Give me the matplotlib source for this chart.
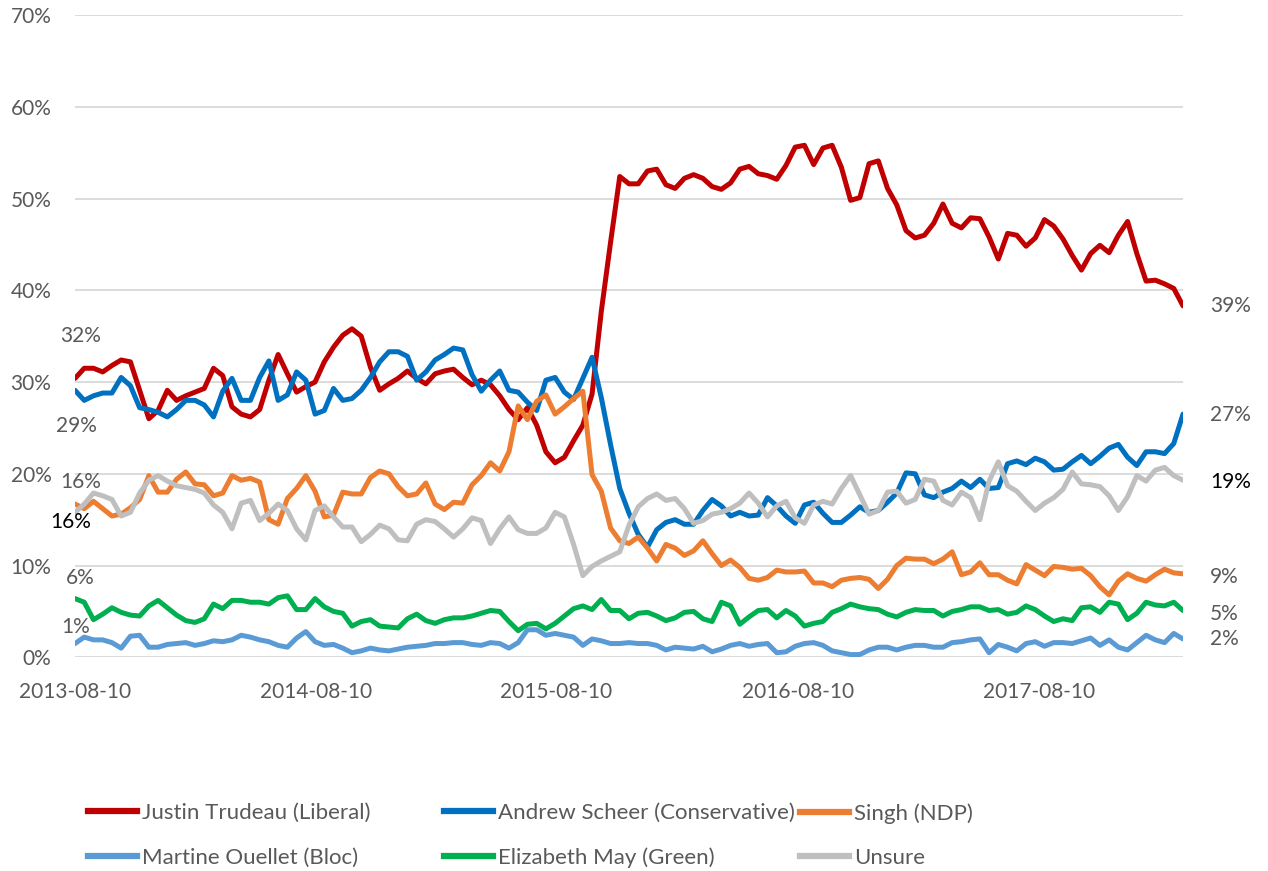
# Canadian leader preference tracking, 2013-2018 (recreated chart)
import matplotlib
matplotlib.use('Agg')
import matplotlib.pyplot as plt
import pandas as pd
from matplotlib.lines import Line2D

plt.rcParams['font.family'] = ['Lato', 'DejaVu Sans']

# data: one reading every two weeks, in percent
dates = pd.date_range('2013-08-10', periods=121, freq='14D')

trudeau = [30.4, 31.5, 31.5, 31.1, 31.8, 32.4, 32.2, 29.1, 26.0, 26.9, 29.1, 28.0, 28.5, 28.9, 29.3, 31.5, 30.7, 27.3, 26.5,
           26.2, 27.0, 30.2, 33.0, 30.9, 28.9, 29.5, 30.0, 32.2, 33.8, 35.1, 35.8, 35.0, 31.6, 29.1, 29.8, 30.4, 31.2, 30.4, 29.8, 30.9,
           31.2,
           31.4, 30.5, 29.7, 30.2, 29.7, 28.5, 27.0, 25.9, 27.2, 25.3, 22.4, 21.2, 21.8, 23.6, 25.3, 28.7, 37.7, 45.2, 52.4, 51.6, 51.6,
           53.0, 53.2, 51.5, 51.1, 52.2, 52.6, 52.2, 51.3, 51.0, 51.7, 53.2, 53.5, 52.7, 52.5, 52.1, 53.6, 55.6, 55.8, 53.7, 55.5, 55.8,
           53.4, 49.8, 50.1, 53.8, 54.1, 51.1, 49.3, 46.5, 45.7, 46.0, 47.3, 49.4, 47.3, 46.8, 47.9, 47.8, 45.8, 43.4, 46.2, 46.0,
           44.8, 45.7, 47.7, 47.0, 45.6, 43.8, 42.2, 44.0, 44.9, 44.1, 46.0, 47.5, 44.0, 41.0, 41.1, 40.7, 40.2, 38.3]

scheer = [29.1, 28.0, 28.5, 28.8, 28.8, 30.5, 29.6, 27.2, 27.0, 26.7, 26.2, 27.0, 28.0, 28.0, 27.5, 26.2, 29.0, 30.4, 28.0,
          28.0, 30.5, 32.3, 28.0, 28.6, 31.1, 30.2, 26.5, 26.9, 29.3, 28.0, 28.2, 29.1, 30.5, 32.2, 33.3, 33.3, 32.8, 30.2, 31.1, 32.4,
          33.0,
          33.7, 33.5, 30.8, 29.0, 30.2, 31.2, 29.1, 28.9, 27.8, 26.9, 30.2, 30.5, 28.9, 28.1, 30.4, 32.7, 28.3, 23.2, 18.4, 15.7, 13.4,
          12.0, 13.9, 14.7, 15.0, 14.5, 14.5, 16.0, 17.2, 16.5, 15.4, 15.8, 15.4, 15.5, 17.4, 16.5, 15.4, 14.6, 16.6, 16.9, 15.7, 14.7,
          14.7, 15.5, 16.4, 15.8, 16.0, 16.9, 17.9, 20.1, 20.0, 17.7, 17.4, 18.0, 18.4, 19.2, 18.5, 19.4, 18.4, 18.5, 21.1, 21.4,
          21.0, 21.7, 21.3, 20.4, 20.5, 21.3, 22.0, 21.1, 21.9, 22.8, 23.2, 21.8, 20.9, 22.4, 22.4, 22.2, 23.3, 26.5]

singh = [16.7, 16.2, 17.0, 16.2, 15.4, 15.6, 16.3, 17.2, 19.8, 18.0, 18.0, 19.4, 20.2, 18.9, 18.8, 17.6, 17.9, 19.8, 19.3,
         19.5, 19.1, 15.0, 14.5, 17.3, 18.4, 19.8, 18.1, 15.3, 15.5, 18.0, 17.8, 17.8, 19.6, 20.3, 20.0, 18.6, 17.6, 17.8, 19.0, 16.7,
         16.1,
         16.9, 16.8, 18.8, 19.8, 21.2, 20.3, 22.4, 27.4, 25.9, 27.9, 28.6, 26.5, 27.3, 28.2, 29.0, 19.9, 18.1, 14.1, 12.7, 12.4, 13.1,
         11.9, 10.5, 12.3, 11.9, 11.1, 11.6, 12.7, 11.3, 10.0, 10.6, 9.8, 8.6, 8.4, 8.7, 9.5, 9.3, 9.3, 9.4, 8.1, 8.1, 7.7,
         8.4, 8.6, 8.7, 8.5, 7.5, 8.5, 10.0, 10.8, 10.7, 10.7, 10.2, 10.7, 11.5, 9.0, 9.3, 10.3, 9.0, 9.0, 8.4, 8.0,
         10.1, 9.5, 8.9, 9.9, 9.8, 9.6, 9.7, 8.9, 7.7, 6.8, 8.3, 9.1, 8.6, 8.3, 9.0, 9.6, 9.2, 9.1]

ouellet = [1.5, 2.2, 1.9, 1.9, 1.6, 1.0, 2.3, 2.4, 1.1, 1.1, 1.4, 1.5, 1.6, 1.3, 1.5, 1.8, 1.7, 1.9, 2.4,
           2.2, 1.9, 1.7, 1.3, 1.1, 2.1, 2.8, 1.7, 1.3, 1.4, 1.0, 0.5, 0.7, 1.0, 0.8, 0.7, 0.9, 1.1, 1.2, 1.3, 1.5,
           1.5,
           1.6, 1.6, 1.4, 1.3, 1.6, 1.5, 1.0, 1.6, 3.0, 3.0, 2.4, 2.6, 2.4, 2.2, 1.3, 2.0, 1.8, 1.5, 1.5, 1.6, 1.5,
           1.5, 1.3, 0.8, 1.1, 1.0, 0.9, 1.2, 0.6, 0.9, 1.3, 1.5, 1.2, 1.4, 1.5, 0.5, 0.6, 1.2, 1.5, 1.6, 1.3, 0.7,
           0.5, 0.3, 0.3, 0.8, 1.1, 1.1, 0.8, 1.1, 1.3, 1.3, 1.1, 1.1, 1.6, 1.7, 1.9, 2.0, 0.5, 1.4, 1.1, 0.7,
           1.5, 1.7, 1.2, 1.6, 1.6, 1.5, 1.8, 2.1, 1.3, 1.9, 1.1, 0.8, 1.6, 2.4, 1.9, 1.6, 2.6, 2.0]

may = [6.4, 6.0, 4.1, 4.7, 5.4, 4.9, 4.6, 4.5, 5.6, 6.2, 5.4, 4.6, 4.0, 3.8, 4.2, 5.8, 5.3, 6.2, 6.2,
       6.0, 6.0, 5.8, 6.5, 6.7, 5.2, 5.2, 6.4, 5.5, 5.0, 4.8, 3.4, 3.9, 4.1, 3.4, 3.3, 3.2, 4.2, 4.7, 4.0, 3.7,
       4.1,
       4.3, 4.3, 4.5, 4.8, 5.1, 5.0, 3.9, 2.9, 3.6, 3.7, 3.1, 3.7, 4.5, 5.3, 5.6, 5.2, 6.3, 5.1, 5.1, 4.2, 4.8,
       4.9, 4.5, 4.0, 4.3, 4.9, 5.0, 4.2, 3.9, 6.0, 5.6, 3.6, 4.4, 5.1, 5.2, 4.3, 5.1, 4.5, 3.4, 3.7, 3.9, 4.9,
       5.3, 5.8, 5.5, 5.3, 5.2, 4.7, 4.4, 4.9, 5.2, 5.1, 5.1, 4.5, 5.0, 5.2, 5.5, 5.5, 5.1, 5.2, 4.7, 4.9,
       5.6, 5.2, 4.5, 3.9, 4.2, 4.0, 5.4, 5.5, 4.9, 6.0, 5.8, 4.1, 4.8, 6.0, 5.7, 5.6, 6.0, 5.1]

unsure = [15.8, 16.7, 17.9, 17.6, 17.2, 15.4, 15.8, 17.9, 19.3, 19.8, 19.2, 18.7, 18.5, 18.3, 17.9, 16.6, 15.8, 14.0, 16.8,
          17.1, 14.9, 15.7, 16.7, 16.0, 14.0, 12.8, 16.0, 16.5, 15.3, 14.2, 14.2, 12.6, 13.4, 14.4, 14.0, 12.8, 12.7, 14.5, 15.0, 14.8,
          14.0,
          13.1, 14.0, 15.2, 14.9, 12.4, 14.0, 15.3, 13.9, 13.5, 13.5, 14.1, 15.8, 15.3, 12.3, 8.9, 9.9, 10.5, 11.0, 11.5, 14.4, 16.4,
          17.3, 17.8, 17.1, 17.3, 16.2, 14.6, 14.9, 15.6, 15.8, 16.2, 16.8, 17.9, 16.8, 15.3, 16.5, 17.0, 15.2, 14.6, 16.6, 17.0, 16.7,
          18.4, 19.8, 17.7, 15.6, 16.0, 18.0, 18.1, 16.8, 17.2, 19.4, 19.2, 17.1, 16.6, 18.0, 17.4, 15.0, 19.2, 21.3, 18.7, 18.1,
          17.0, 16.0, 16.8, 17.4, 18.3, 20.2, 18.9, 18.8, 18.6, 17.6, 16.0, 17.5, 19.8, 19.2, 20.4, 20.7, 19.8, 19.3]

names = ['Justin Trudeau (Liberal)', 'Andrew Scheer (Conservative)', 'Singh (NDP)',
         'Martine Ouellet (Bloc)', 'Elizabeth May (Green)', 'Unsure']
series = [trudeau, scheer, singh, ouellet, may, unsure]
colors = ['#C00000', '#0070C0', '#ED7D31', '#5B9BD5', '#00B050', '#BFBFBF']

# labels at the start and end of the lines
start_labels = ['32%', '29%', '16%', '1%', '6%', '16%']
end_labels = ['39%', '27%', '9%', '2%', '5%', '19%']
label_colors = ['#595959', '#595959', '#595959', '#595959', '#595959', 'black']
start_offsets = [(6, 42), (1, -36), (6, 22), (1, 17), (5, 21), (-4, -10)]
end_offsets = [(27, 0), (27, -1), (27, -3), (27, 0), (27, -3), (27, -2)]

tick_dates = pd.to_datetime(['2013-08-10', '2014-08-10', '2015-08-10', '2016-08-10', '2017-08-10'])
y_ticks = [0, 10, 20, 30, 40, 50, 60, 70]

W, H = 1268, 871
fig = plt.figure(figsize=(W / 100, H / 100), dpi=100)
ax = fig.add_axes([75 / W, 1 - 657.3 / H, (1183 - 75) / W, (657.3 - 15) / H])

for vals, c in zip(series, colors):
    ax.plot(dates, vals, color=c, lw=3.6, solid_joinstyle='round', solid_capstyle='round')

for vals, lab, col, off in zip(series, start_labels, label_colors, start_offsets):
    ax.annotate(lab, xy=(dates[0], vals[0]), xytext=off, textcoords='offset pixels',
                ha='center', va='center', fontsize=15, color=col, annotation_clip=False)
for vals, lab, col, off in zip(series, end_labels, label_colors, end_offsets):
    ax.annotate(lab, xy=(dates[-1], vals[-1]), xytext=off, textcoords='offset pixels',
                ha='left', va='center', fontsize=15, color=col, annotation_clip=False)

ax.set_xlim(dates[0], dates[-1])
ax.set_ylim(0, 70)
ax.set_yticks(y_ticks)
ax.set_yticklabels([f'{v}%' for v in y_ticks])
ax.set_xticks(tick_dates)
ax.set_xticklabels([d.strftime('%Y-%m-%d') for d in tick_dates])
ax.tick_params(axis='y', length=0, pad=17, labelsize=15, labelcolor='#595959')
ax.tick_params(axis='x', length=0, pad=18, labelsize=15, labelcolor='#595959')
ax.grid(axis='y', color='#D9D9D9', lw=1.3)
ax.set_axisbelow(True)
for s in ax.spines.values():
    s.set_visible(False)

# legend: three columns, two rows each
handles = [Line2D([], [], color=c, lw=4.5) for c in colors]
col_x = [88, 444, 800]
for j in range(3):
    fig.legend(handles=[handles[j], handles[j + 3]], labels=[names[j], names[j + 3]],
               loc='upper left', bbox_to_anchor=(col_x[j] / W, 1 - 803 / H),
               frameon=False, fontsize=16, labelcolor='#595959',
               handlelength=2.2, handletextpad=0.25, labelspacing=1.1,
               borderpad=0, borderaxespad=0)

fig.savefig('out.png', dpi=100)
